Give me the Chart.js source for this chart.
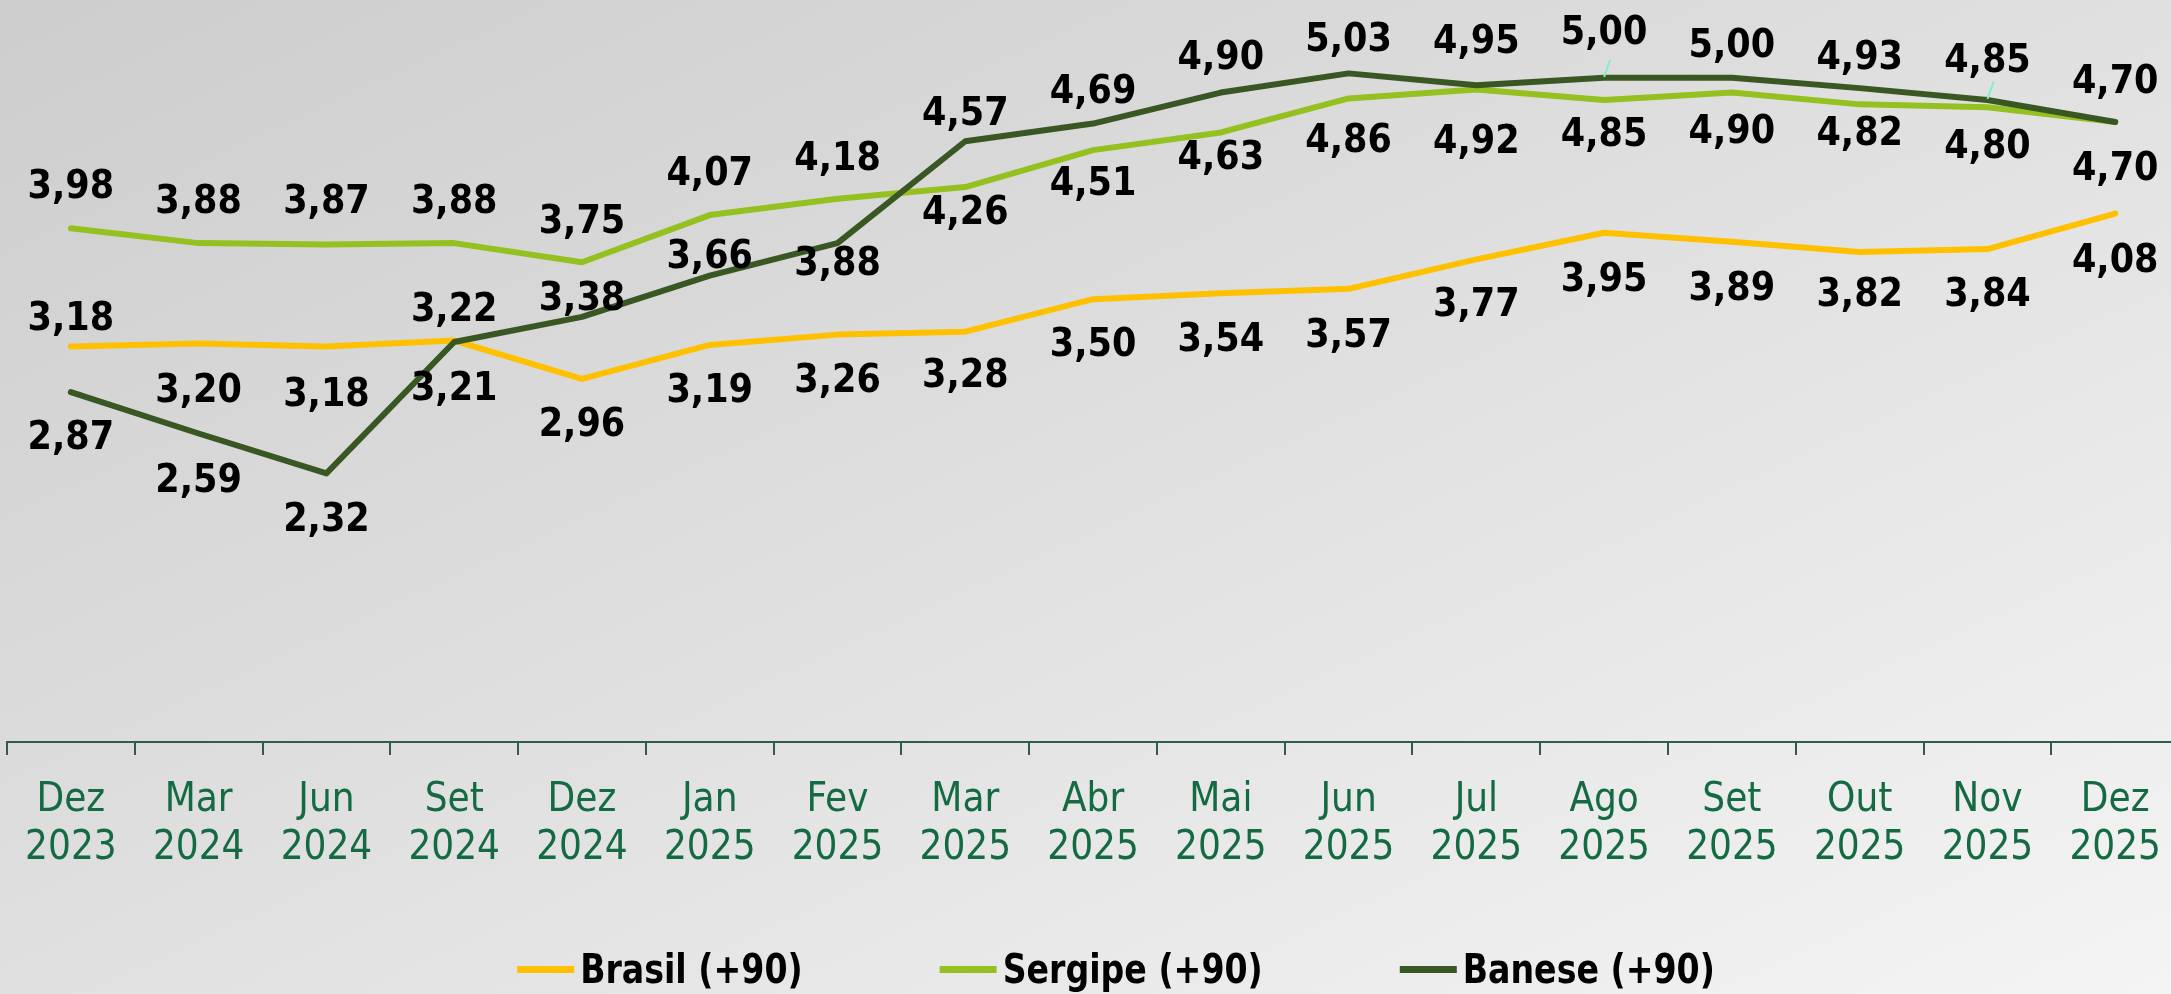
<!DOCTYPE html>
<html>
<head>
<meta charset="utf-8">
<script src="https://cdn.jsdelivr.net/npm/chart.js@4.4.1/dist/chart.umd.min.js"></script>
<style>
    html, body { margin: 0; padding: 0; }
    body {
        width: 2171px;
        height: 994px;
        overflow: hidden;
        background: linear-gradient(to bottom right, #cdcdcd 0%, #dcdcdc 40%, #f4f4f4 100%);
    }
    /* plot runs a little past the right edge, like the original slide */
    #wrap { position: relative; width: 2183px; height: 994px; }
</style>
</head>
<body>
<div id="wrap"><canvas id="taxaChart"></canvas></div>
<script>
const months = [
    ['Dez', '2023'], ['Mar', '2024'], ['Jun', '2024'], ['Set', '2024'], ['Dez', '2024'],
    ['Jan', '2025'], ['Fev', '2025'], ['Mar', '2025'], ['Abr', '2025'], ['Mai', '2025'],
    ['Jun', '2025'], ['Jul', '2025'], ['Ago', '2025'], ['Set', '2025'], ['Out', '2025'],
    ['Nov', '2025'], ['Dez', '2025']
];

const brasil  = [3.18, 3.20, 3.18, 3.22, 2.96, 3.19, 3.26, 3.28, 3.50, 3.54, 3.57, 3.77, 3.95, 3.89, 3.82, 3.84, 4.08];
const sergipe = [3.98, 3.88, 3.87, 3.88, 3.75, 4.07, 4.18, 4.26, 4.51, 4.63, 4.86, 4.92, 4.85, 4.90, 4.82, 4.80, 4.70];
const banese  = [2.87, 2.59, 2.32, 3.21, 3.38, 3.66, 3.88, 4.57, 4.69, 4.90, 5.03, 4.95, 5.00, 5.00, 4.93, 4.85, 4.70];

// label placement (px from the point, negative = above), as in the original slide
const brasilLabelDy  = [-30, 45, 46, -33, 44, 44, 44, 42, 44, 45, 45, 44, 45, 45, 41, 44, 45];
const sergipeLabelDy = [-43, -43, -45, -43, -42, -43, -42, 24, 32, 23, 40, 50, 33, 37, 28, 38, 45];
const baneseLabelDy  = [44, 45, 45, 45, -20, -21, 19, -29, -34, -37, -35, -45, -47, -34, -32, -41, -42];
const baneseLeaders  = [12, 15]; // labels moved away, with a small leader line

const LABEL_FONT = '"DejaVu Sans Condensed", "DejaVu Sans", sans-serif';

const fmt = v => v.toFixed(2).replace('.', ',');

// value labels drawn on top of the lines
const valueLabels = {
    id: 'valueLabels',
    afterDatasetsDraw(chart) {
        const ctx = chart.ctx;
        ctx.save();
        ctx.font = 'bold 39px ' + LABEL_FONT;
        ctx.textAlign = 'center';
        ctx.textBaseline = 'middle';
        chart.data.datasets.forEach((ds, i) => {
            const meta = chart.getDatasetMeta(i);
            meta.data.forEach((pt, j) => {
                if (ds.leaders && ds.leaders.includes(j)) {
                    ctx.strokeStyle = '#7ff0c4';
                    ctx.lineWidth = 2;
                    ctx.beginPath();
                    ctx.moveTo(pt.x, pt.y - 1);
                    ctx.lineTo(pt.x + 6, pt.y - 18);
                    ctx.stroke();
                }
                ctx.fillStyle = '#000';
                ctx.fillText(fmt(ds.data[j]), pt.x, pt.y + ds.labelDy[j] + 3);
            });
        });
        ctx.restore();
    }
};

// legend at the bottom, short line swatch right next to the text
const bottomLegend = {
    id: 'bottomLegend',
    afterDraw(chart) {
        const ctx = chart.ctx;
        const swatch = 57, gapText = 6, gapItem = 137, squeeze = 0.9;
        const y = 969;
        ctx.save();
        ctx.font = 'bold 41px ' + LABEL_FONT;
        ctx.textBaseline = 'middle';
        const items = chart.data.datasets.map(ds => ({
            text: ds.label,
            color: ds.borderColor,
            w: ctx.measureText(ds.label).width * squeeze
        }));
        const total = items.reduce((s, it) => s + swatch + gapText + it.w, 0) + gapItem * (items.length - 1);
        let x = 1116 - total / 2;
        items.forEach(it => {
            ctx.fillStyle = it.color;
            ctx.fillRect(x, y - 3, swatch, 7);
            x += swatch + gapText;
            ctx.save();
            ctx.translate(x, y + 3);
            ctx.scale(squeeze, 1);
            ctx.fillStyle = '#000';
            ctx.fillText(it.text, 0, 0);
            ctx.restore();
            x += it.w + gapItem;
        });
        ctx.restore();
    }
};

const ctx = document.getElementById('taxaChart').getContext('2d');

new Chart(ctx, {
    type: 'line',
    data: {
        labels: months,
        datasets: [
            {
                label: 'Brasil (+90)',
                data: brasil,
                labelDy: brasilLabelDy,
                borderColor: '#ffc000',
                order: 3
            },
            {
                label: 'Sergipe (+90)',
                data: sergipe,
                labelDy: sergipeLabelDy,
                borderColor: '#94c11f',
                order: 2
            },
            {
                label: 'Banese (+90)',
                data: banese,
                labelDy: baneseLabelDy,
                leaders: baneseLeaders,
                borderColor: '#385723',
                order: 1
            }
        ]
    },
    options: {
        responsive: true,
        maintainAspectRatio: false,
        devicePixelRatio: 1,
        animation: false,
        datasets: {
            line: {
                borderWidth: 6,
                pointRadius: 0,
                tension: 0,
                fill: false,
                borderJoinStyle: 'round',
                borderCapStyle: 'round'
            }
        },
        layout: {
            padding: { top: 4, left: 7, right: 0, bottom: 0 }
        },
        plugins: {
            legend: { display: false },
            tooltip: { enabled: false }
        },
        scales: {
            x: {
                offset: true,
                grid: {
                    offset: true,
                    drawOnChartArea: false,
                    drawTicks: true,
                    tickLength: 13,
                    color: '#2f5d4a',
                    lineWidth: 2
                },
                border: { display: true, color: '#2f5d4a', width: 2 },
                ticks: {
                    color: '#146b42',
                    autoSkip: false,
                    maxRotation: 0,
                    padding: 22,
                    font: { family: LABEL_FONT, size: 40, lineHeight: 1.2 }
                },
                afterFit(scale) { scale.height = 252; }
            },
            y: {
                display: false,
                min: 0.5,
                max: 5.5
            }
        }
    },
    plugins: [valueLabels, bottomLegend]
});
</script>
</body>
</html>
